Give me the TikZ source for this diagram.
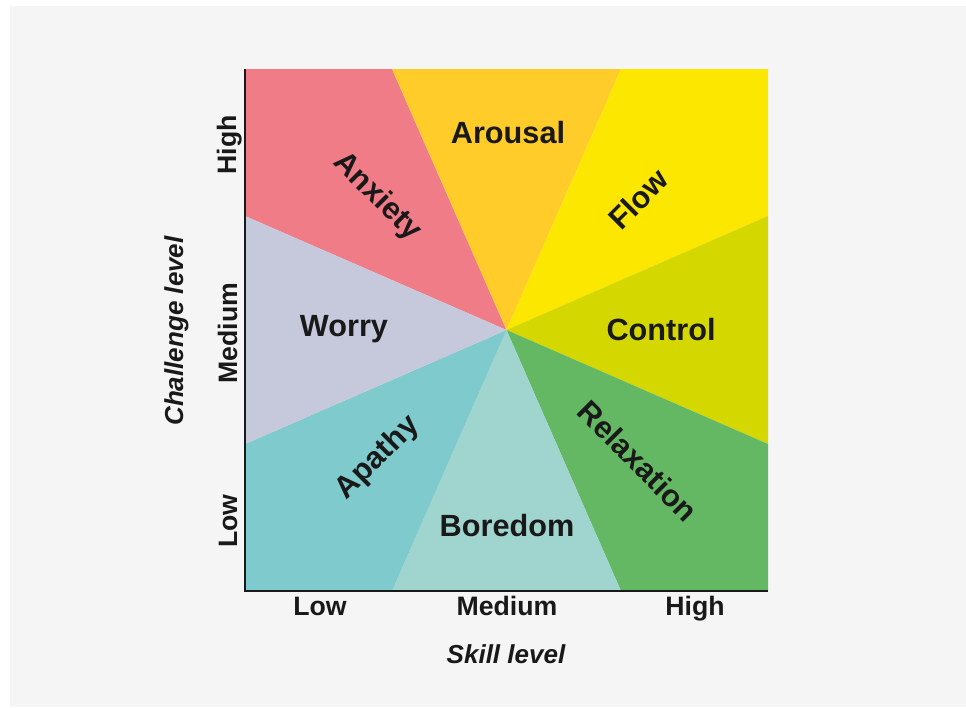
\documentclass[tikz,border=0pt]{standalone}
\usepackage{fontspec}
\setmainfont{Liberation Sans}
\usetikzlibrary{positioning}

\definecolor{panel}{HTML}{F5F5F5}
\definecolor{anxietycol}{HTML}{F07C87}
\definecolor{arousalcol}{HTML}{FFCC2A}
\definecolor{flowcol}{HTML}{FBE700}
\definecolor{controlcol}{HTML}{D4D700}
\definecolor{relaxcol}{HTML}{64B863}
\definecolor{boredomcol}{HTML}{A0D5CF}
\definecolor{apathycol}{HTML}{7FCACC}
\definecolor{worrycol}{HTML}{C6C9DC}

\begin{document}
\begin{tikzpicture}[x=0.75pt, y=-0.75pt,
  zone/.style={font=\fontsize{23}{26}\selectfont\bfseries, text=black!90},
  tick/.style={font=\fontsize{20}{24}\selectfont\bfseries, text=black!90, anchor=base},
  axistitle/.style={font=\fontsize{19.5}{24}\selectfont\bfseries\itshape, text=black!90, anchor=base}]
  \useasboundingbox (0,0) rectangle (966,707);
  \fill[white] (0,0) rectangle (966,707);
  \fill[panel] (10,6) rectangle (966,707);
  \coordinate (c) at (506.5,330);
  % wedges round the centre, clockwise from top left
  \fill[anxietycol] (c) -- (245,216) -- (245,69) -- (392,69) -- cycle;
  \fill[arousalcol] (c) -- (392,69) -- (621,69) -- cycle;
  \fill[flowcol] (c) -- (621,69) -- (768,69) -- (768,216) -- cycle;
  \fill[controlcol] (c) -- (768,216) -- (768,444) -- cycle;
  \fill[relaxcol] (c) -- (768,444) -- (768,591) -- (621,591) -- cycle;
  \fill[boredomcol] (c) -- (621,591) -- (392,591) -- cycle;
  \fill[apathycol] (c) -- (392,591) -- (245,591) -- (245,444) -- cycle;
  \fill[worrycol] (c) -- (245,444) -- (245,216) -- cycle;
  % axes
  \coordinate (ytop) at (245,69);
  \coordinate (origin) at (245,591);
  \coordinate (xend) at (768,591);
  \draw[line width=2.2pt, black!90, line join=miter] (ytop) -- (origin) -- (xend);
  % zone names
  \node[zone] (arousal) at (508,133) {Arousal};
  \node[zone, rotate=-45] (anxiety) at (377,197) {Anxiety};
  \node[zone, rotate=45] (flow) at (638,199) {Flow};
  \node[zone] (worry) at (344,329) {Worry};
  \node[zone] (control) at (661,330) {Control};
  \node[zone, rotate=45] (apathy) at (378,458) {Apathy};
  \node[zone] (boredom) at (507,526) {Boredom};
  \node[zone, rotate=-45] (relaxation) at (638,461) {Relaxation};
  % tick labels
  \node[tick, rotate=90] (chigh) at (236,145) {High};
  \node[tick, rotate=90] (cmed) at (237,333) {Medium};
  \node[tick, rotate=90] (clow) at (237,521) {Low};
  \node[tick] (slow) at (320,615) {Low};
  \node[tick] (smed) at (507,615) {Medium};
  \node[tick] (shigh) at (695,615) {High};
  % axis titles
  \node[axistitle, rotate=90] (challenge) at (183,331) {Challenge level};
  \node[axistitle] (skill) at (506,663) {Skill level};
\end{tikzpicture}
\end{document}
